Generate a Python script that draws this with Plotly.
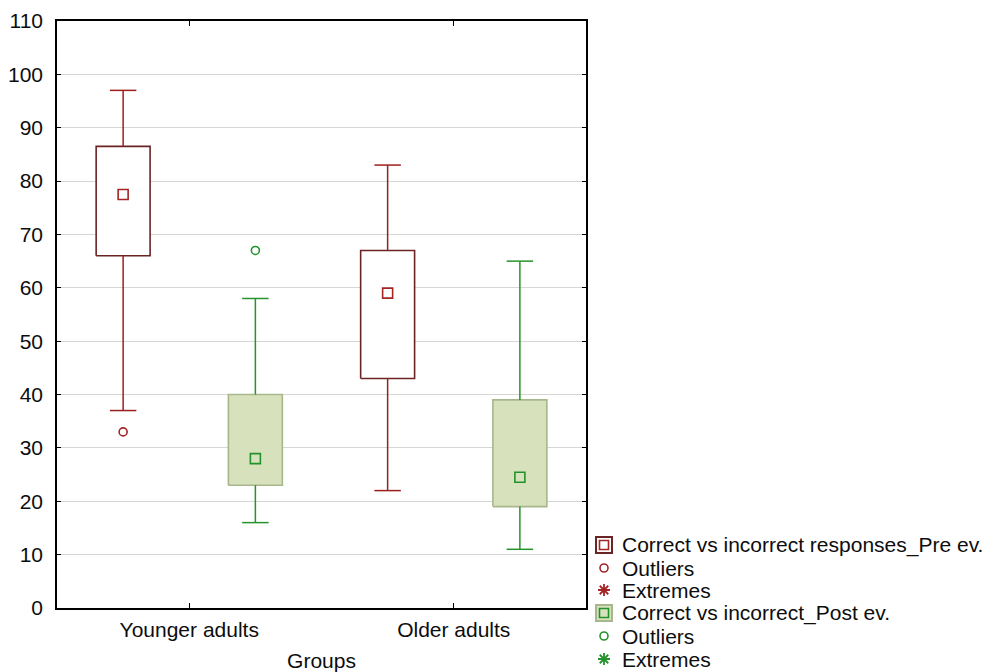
import plotly.graph_objects as go

# Box-plot summary (median; box 25%-75%; whiskers = non-outlier range)
groups = ["Younger adults", "Older adults"]

pre_median = [77.5, 59]
pre_q1 = [66, 43]
pre_q3 = [86.5, 67]
pre_low = [37, 22]
pre_high = [97, 83]
pre_outlier_group = [0]
pre_outlier_value = [33]

post_median = [28, 24.5]
post_q1 = [23, 19]
post_q3 = [40, 39]
post_low = [16, 11]
post_high = [58, 65]
post_outlier_group = [0]
post_outlier_value = [67]

y_ticks = list(range(0, 111, 10))

series_names = ["Correct vs incorrect responses_Pre ev.", "Correct vs incorrect_Post ev."]
legend_labels = [series_names[0], "Outliers", "Extremes", series_names[1], "Outliers", "Extremes"]

FONT = "Liberation Sans, Arial, sans-serif"
TEXT = "#0d0d0d"
FS = 21

PRE = dict(box_line="#6b2424", box_fill="#ffffff", whisker="#9c1f1f", marker="#a32525")
POST = dict(box_line="#a7b68c", box_fill="#d7e2bd", whisker="#25952a", marker="#23922a")

HALF_BOX = 0.102
HALF_CAP = 0.05
OFFSET = 0.25

fig = go.Figure()


def add_series(offset, q1, q3, med, low, high, out_g, out_v, style):
    for i in range(len(groups)):
        c = i + offset
        # box body
        fig.add_trace(go.Scatter(
            x=[c - HALF_BOX, c + HALF_BOX, c + HALF_BOX, c - HALF_BOX, c - HALF_BOX],
            y=[q1[i], q1[i], q3[i], q3[i], q1[i]],
            mode="lines", fill="toself", fillcolor=style["box_fill"],
            line=dict(color=style["box_line"], width=1.6),
            showlegend=False, hoverinfo="skip"))
        # whiskers and caps
        fig.add_trace(go.Scatter(
            x=[c, c, None, c, c, None,
               c - HALF_CAP, c + HALF_CAP, None, c - HALF_CAP, c + HALF_CAP],
            y=[q3[i], high[i], None, q1[i], low[i], None,
               high[i], high[i], None, low[i], low[i]],
            mode="lines", line=dict(color=style["whisker"], width=1.5),
            showlegend=False, hoverinfo="skip"))
    # medians
    fig.add_trace(go.Scatter(
        x=[i + offset for i in range(len(groups))], y=med, mode="markers",
        marker=dict(symbol="square-open", size=10, color=style["marker"],
                    line=dict(width=1.6, color=style["marker"])),
        showlegend=False))
    # outliers
    fig.add_trace(go.Scatter(
        x=[g + offset for g in out_g], y=out_v, mode="markers",
        marker=dict(symbol="circle-open", size=8, color=style["marker"],
                    line=dict(width=1.6, color=style["marker"])),
        showlegend=False))


add_series(-OFFSET, pre_q1, pre_q3, pre_median, pre_low, pre_high,
           pre_outlier_group, pre_outlier_value, PRE)
add_series(OFFSET, post_q1, post_q3, post_median, post_low, post_high,
           post_outlier_group, post_outlier_value, POST)

# ---- legend drawn on its own hidden axis pair (pixel units) ----
leg_x = 604
leg_rows = [545, 568, 590, 613, 636, 659]
styles = [PRE, PRE, PRE, POST, POST, POST]
kinds = ["box", "outlier", "extreme", "box", "outlier", "extreme"]

for y, st, kind in zip(leg_rows, styles, kinds):
    if kind == "box":
        fig.add_trace(go.Scatter(
            x=[leg_x], y=[y], xaxis="x2", yaxis="y2", mode="markers",
            marker=dict(symbol="square", size=16, color=st["box_fill"],
                        line=dict(width=2, color=st["box_line"])),
            showlegend=False, hoverinfo="skip"))
        fig.add_trace(go.Scatter(
            x=[leg_x], y=[y], xaxis="x2", yaxis="y2", mode="markers",
            marker=dict(symbol="square-open", size=9, color=st["marker"],
                        line=dict(width=1.6, color=st["marker"])),
            showlegend=False, hoverinfo="skip"))
    elif kind == "outlier":
        fig.add_trace(go.Scatter(
            x=[leg_x], y=[y], xaxis="x2", yaxis="y2", mode="markers",
            marker=dict(symbol="circle-open", size=8, color=st["marker"],
                        line=dict(width=1.6, color=st["marker"])),
            showlegend=False, hoverinfo="skip"))
    else:
        fig.add_trace(go.Scatter(
            x=[leg_x], y=[y], xaxis="x2", yaxis="y2", mode="markers",
            marker=dict(symbol="asterisk-open", size=10, color=st["marker"],
                        line=dict(width=1.8, color=st["marker"])),
            showlegend=False, hoverinfo="skip"))

annotations = []
for y, label in zip(leg_rows, legend_labels):
    annotations.append(dict(
        x=620, y=y, xref="x2", yref="y2", text=label, showarrow=False,
        xanchor="left", yanchor="middle",
        font=dict(family=FONT, size=FS, color=TEXT)))

W, H = 990, 672
plot_left, plot_right, plot_top, plot_bottom = 57, 586, 21, 608

fig.update_layout(
    width=W, height=H,
    margin=dict(l=0, r=0, t=0, b=0),
    paper_bgcolor="white", plot_bgcolor="white",
    font=dict(family=FONT, size=FS, color=TEXT),
    showlegend=False,
    annotations=annotations,
    xaxis=dict(
        domain=[plot_left / W, plot_right / W],
        range=[-0.5, 1.5], tickvals=list(range(len(groups))), ticktext=groups,
        showgrid=False, zeroline=False,
        showline=True, linecolor="#000000", linewidth=1.5, mirror="ticks",
        ticks="inside", ticklen=5, tickcolor="#000000", tickwidth=1.2,
        tickfont=dict(family=FONT, size=FS, color=TEXT),
        ticklabelstandoff=2,
        title=dict(text="Groups", standoff=16,
                   font=dict(family=FONT, size=FS, color=TEXT)),
        automargin=False,
    ),
    yaxis=dict(
        domain=[(H - plot_bottom) / H, (H - plot_top) / H],
        range=[0, 110], tickvals=y_ticks,
        showgrid=True, gridcolor="#d6d6d6", gridwidth=1, zeroline=False,
        showline=True, linecolor="#000000", linewidth=1.5, mirror="ticks",
        ticks="inside", ticklen=4, tickcolor="#000000", tickwidth=1.2,
        tickfont=dict(family=FONT, size=FS, color=TEXT),
        ticklabelstandoff=8,
        automargin=False,
    ),
    xaxis2=dict(domain=[589 / W, 1], range=[589, 990], visible=False,
                anchor="y2", fixedrange=True),
    yaxis2=dict(domain=[0, (H - 528) / H], range=[672, 528], visible=False,
                anchor="x2", fixedrange=True),
)

fig.write_html("out.html")
